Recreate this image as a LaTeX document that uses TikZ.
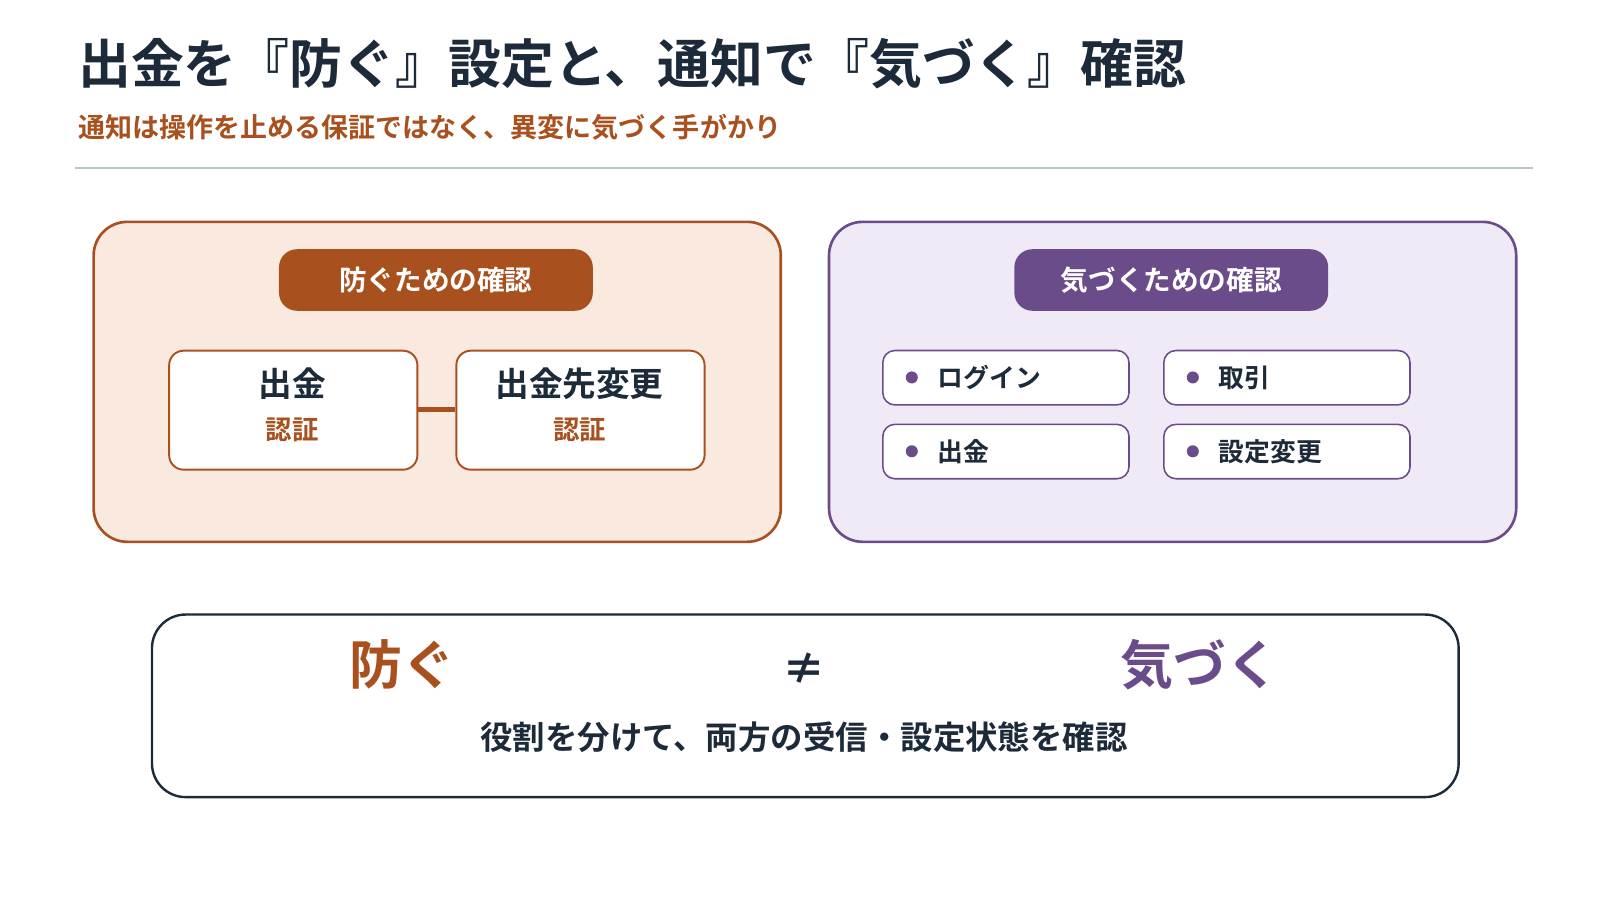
\documentclass[tikz,border=0pt]{standalone}
\usepackage{fontspec}
\setmainfont{Noto Sans CJK JP}[BoldFont={Noto Sans CJK JP Bold}]
\usetikzlibrary{positioning}
\definecolor{org}{HTML}{A9501F}
\definecolor{orgf}{HTML}{FAE9DF}
\definecolor{pur}{HTML}{6B4C8A}
\definecolor{purf}{HTML}{F0E9F6}
\definecolor{ink}{HTML}{1C2A3A}
\definecolor{rule}{HTML}{B9C5C9}
\tikzset{
 x=0.03cm,y=-0.03cm,
 panel/.style={draw=#1,line width=2.2pt,rounded corners=28pt,minimum width=670*0.03cm,minimum height=312*0.03cm,anchor=north west},
 pill/.style={fill=#1,text=white,rounded corners=15pt,minimum width=306*0.03cm,minimum height=60*0.03cm,font=\bfseries\fontsize{23}{27}\selectfont},
 auth/.style={draw=org,fill=white,line width=1.6pt,rounded corners=12pt,minimum width=242*0.03cm,minimum height=116*0.03cm,anchor=north west},
 item/.style={draw=pur,fill=white,line width=1.3pt,rounded corners=10pt,minimum width=240*0.03cm,minimum height=53*0.03cm,anchor=north west},
 itxt/.style={anchor=west,text=ink,font=\bfseries\fontsize{21.5}{25}\selectfont},
 dot/.style={circle,fill=pur,inner sep=0pt,minimum size=10pt}
}
\begin{document}
\begin{tikzpicture}
\useasboundingbox (0,0) rectangle (1560,878);
\node[anchor=west,inner sep=0pt,text=ink,font=\bfseries\fontsize{44}{50}\selectfont] (title) at (76,62) {出金を『防ぐ』設定と、通知で『気づく』確認};
\node[anchor=west,inner sep=0pt,text=org,font=\bfseries\fontsize{22.5}{26}\selectfont] (sub) at (76,124) {通知は操作を止める保証ではなく、異変に気づく手がかり};
\draw[rule,line width=1.5pt] (73,164) -- (1495,164);
% left panel
\node[panel=org,fill=orgf] (lp) at (90,215) {};
\node[pill=org] (lpill) at (425,273) {防ぐための確認};
\node[auth] (a1) at (164,341) {};
\node[auth] (a2) at (444,341) {};
\node[text=ink,font=\bfseries\fontsize{28}{32}\selectfont] (a1t) at (285,374) {出金};
\node[text=org,font=\bfseries\fontsize{22}{26}\selectfont] (a1s) at (285,419) {認証};
\node[text=ink,font=\bfseries\fontsize{28}{32}\selectfont] (a2t) at (565,374) {出金先変更};
\node[text=org,font=\bfseries\fontsize{22}{26}\selectfont] (a2s) at (565,419) {認証};
\draw[org,line width=4pt] (a1.east |- 0,399) -- (a2.west |- 0,399);
% right panel
\node[panel=pur,fill=purf] (rp) at (807,215) {};
\node[pill=pur] (rpill) at (1142,273) {気づくための確認};
\foreach \n/\x/\y/\t in {i1/860/341/ログイン,i2/1134/341/取引,i3/860/413/出金,i4/1134/413/設定変更}{
 \node[item] (\n) at (\x,\y) {};
 \node[dot] (\n d) at (\x+29,\y+27) {};
 \node[itxt] (\n t) at (\x+50,\y+27) {\t};
}
% bottom
\node[draw=ink,line width=2pt,rounded corners=28pt,minimum width=1274*0.03cm,minimum height=178*0.03cm,anchor=north west] (bot) at (147,598) {};
\node[text=org,font=\bfseries\fontsize{44}{50}\selectfont] (b1) at (392,648) {防ぐ};
\node[text=ink,font=\bfseries\fontsize{36}{40}\selectfont] (neq) at (784,652) {≠};
\node[text=pur,font=\bfseries\fontsize{44}{50}\selectfont] (b2) at (1170,648) {気づく};
\node[text=ink,font=\bfseries\fontsize{27}{31}\selectfont] (b3) at (784,719) {役割を分けて、両方の受信・設定状態を確認};
\end{tikzpicture}
\end{document}
